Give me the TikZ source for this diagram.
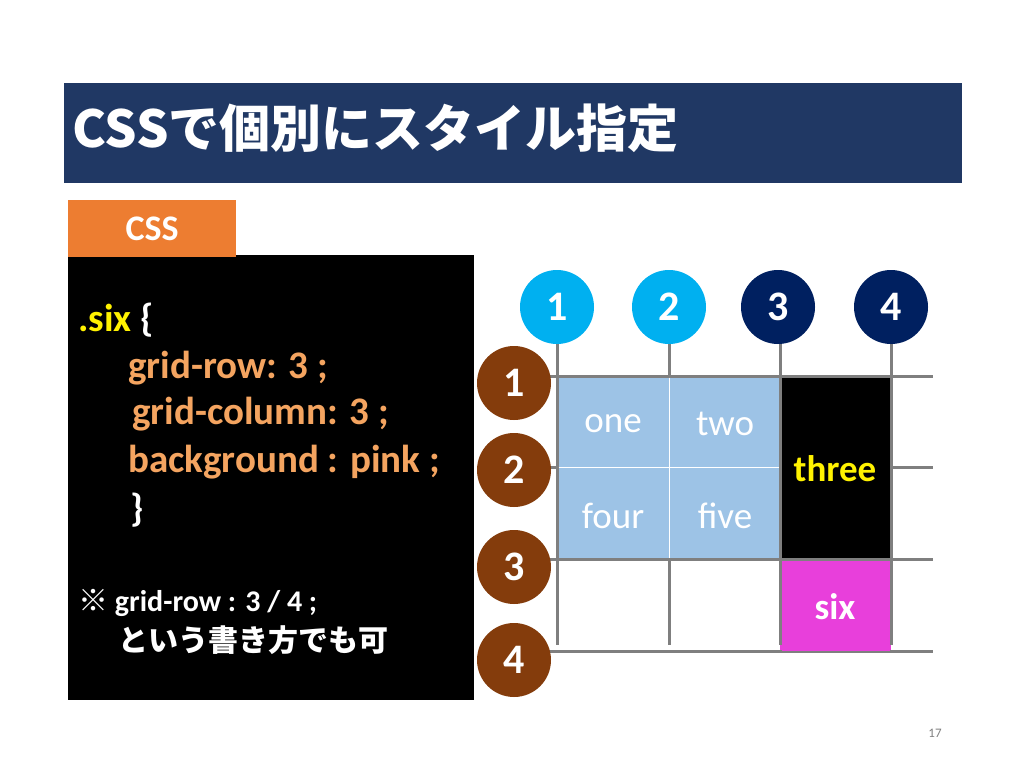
\documentclass[tikz,border=0pt]{standalone}
\usepackage{fontspec}
\setmainfont{Carlito}
\newfontfamily\cjk{Noto Sans CJK JP}
\begin{document}
\begin{tikzpicture}[x=1pt,y=-1pt,
  col/.style={circle,minimum size=74pt,inner sep=0pt,text=white,font=\fontsize{42}{42}\selectfont\bfseries},
  row/.style={col,fill=rowbrown},
  gl/.style={line width=3pt,draw=gridgray},
  code/.style={anchor=west,inner sep=0pt,font=\fontsize{39}{39}\selectfont\bfseries}]
\definecolor{navy}{HTML}{203864}
\definecolor{cssorange}{HTML}{ED7D31}
\definecolor{cyanc}{HTML}{00B0F0}
\definecolor{darknavy}{HTML}{002060}
\definecolor{rowbrown}{HTML}{843C0C}
\definecolor{cellblue}{HTML}{9DC3E6}
\definecolor{magentac}{HTML}{E83FDB}
\definecolor{gridgray}{HTML}{7F7F7F}
\definecolor{codeorange}{HTML}{F4A460}
\useasboundingbox (0,0) rectangle (1024,768);
\fill[white] (0,0) rectangle (1024,768);
% title
\node[fill=navy,minimum width=898pt,minimum height=100pt,anchor=north west,inner sep=0pt] (title) at (64,83) {};
\node[anchor=west,inner sep=0pt,text=white,font=\cjk\fontsize{51}{51}\selectfont\bfseries] (tt) at (72,128) {CSSで個別にスタイル指定};
% css panel
\node[fill=black,minimum width=406pt,minimum height=445pt,anchor=north west,inner sep=0pt] (panel) at (68,255) {};
\node[fill=cssorange,minimum width=168pt,minimum height=57pt,anchor=north west,inner sep=0pt,text=white,font=\fontsize{36}{36}\selectfont\bfseries] (tab) at (68,200) {CSS};
\node[code] (l1) at (78,320) {\textcolor{yellow}{.six} \textcolor{white}{\{}};
\node[code,text=codeorange] (l2) at (128,368) {grid-row: 3 ;};
\node[code,text=codeorange] (l3) at (132,414) {grid-column: 3 ;};
\node[code,text=codeorange] (l4) at (128,462) {background : pink ;};
\node[code,text=white] (l5) at (130,510) {\}};
\node[code,text=white,font=\fontsize{30}{30}\selectfont\bfseries] (n1) at (78,603) {{\cjk ※} grid-row : 3 / 4 ;};
\node[code,text=white,font=\cjk\fontsize{30}{30}\selectfont\bfseries] (n2) at (118,640) {という書き方でも可};
% cells
\fill[cellblue] (557,376) rectangle (780,559);
\fill[black] (780,376) rectangle (891,559);
\fill[magentac] (780,559) rectangle (891,651);
\foreach \x in {557,669,780,891} \draw[gl] (\x,340) -- (\x,645);
\foreach \y in {376,467,559,651} \draw[gl] (540,\y) -- (933,\y);
\fill[black] (781.5,377.5) rectangle (889.5,557.5);
\fill[magentac] (781.5,560.5) rectangle (889.5,651);
\draw[cellblue,line width=3pt] (669,377.5) -- (669,557.5) (558.5,467) -- (779,467);
\draw[white,line width=0.8pt] (669,377.5) -- (669,557.5) (558.5,467) -- (779,467);
\tikzset{ct/.style={text=white,font=\fontsize{37}{37}\selectfont}}
\node[ct] (one) at (613,424) {one};
\node[ct] (two) at (725,424) {two};
\node[ct] (four) at (613,516) {four};
\node[ct] (five) at (725,516) {five};
\node[text=yellow,font=\fontsize{37}{37}\selectfont\bfseries] (three) at (835,469) {three};
\node[text=white,font=\fontsize{37}{37}\selectfont\bfseries] (six) at (835,607) {six};
% circles
\node[col,fill=cyanc] (c1) at (557,307) {1};
\node[col,fill=cyanc] (c2) at (669,307) {2};
\node[col,fill=darknavy] (c3) at (778,307) {3};
\node[col,fill=darknavy] (c4) at (891,307) {4};
\node[row] (r1) at (514,383) {1};
\node[row] (r2) at (514,470) {2};
\node[row] (r3) at (514,567) {3};
\node[row] (r4) at (514,660) {4};
\node[text=gray,font=\fontsize{13}{13}\selectfont] (pg) at (935,733) {17};
\end{tikzpicture}
\end{document}
